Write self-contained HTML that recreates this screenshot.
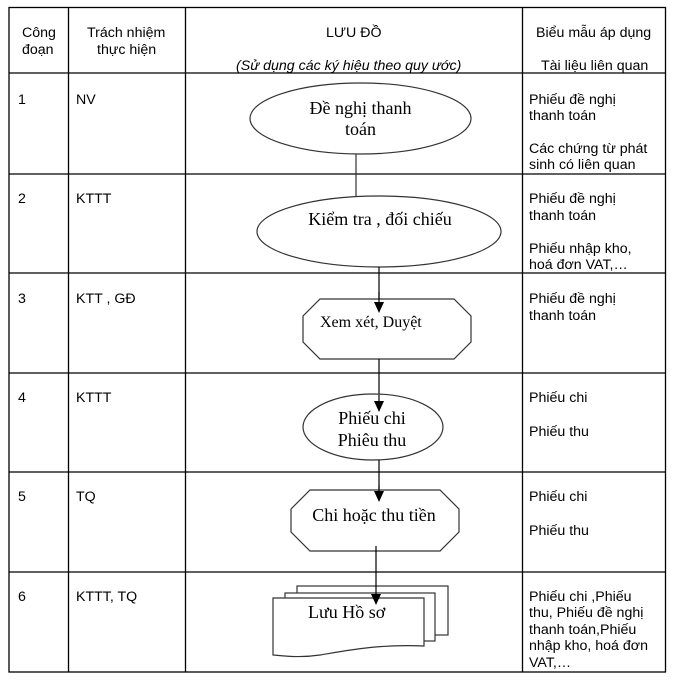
<!DOCTYPE html>
<html><head><meta charset="utf-8"><style>
body{margin:0;background:#fff;width:675px;height:688px;overflow:hidden}
svg{position:absolute;left:0;top:0}
.a{font-family:"Liberation Sans",sans-serif;font-size:14.2px;fill:#000}
.t{font-family:"Liberation Serif",serif;font-size:18px;fill:#000}
</style></head><body>
<svg width="675" height="688" xmlns="http://www.w3.org/2000/svg">
<g stroke="#000" stroke-width="1.3" fill="none">
<rect x="9" y="7.5" width="656.5" height="664.5"/>
<line x1="68.5" y1="7.5" x2="68.5" y2="672"/>
<line x1="185.5" y1="7.5" x2="185.5" y2="672"/>
<line x1="522.5" y1="7.5" x2="522.5" y2="672"/>
<line x1="9" y1="73" x2="665.5" y2="73"/>
<line x1="9" y1="174" x2="665.5" y2="174"/>
<line x1="9" y1="273" x2="665.5" y2="273"/>
<line x1="9" y1="373" x2="665.5" y2="373"/>
<line x1="9" y1="472" x2="665.5" y2="472"/>
<line x1="9" y1="572" x2="665.5" y2="572"/>
</g>
<g stroke="#333" stroke-width="1.2" fill="#fff">
<ellipse cx="360.5" cy="118.5" rx="110.5" ry="35.5"/>
<line x1="356" y1="154" x2="356" y2="196"/>
<ellipse cx="379" cy="231.5" rx="122" ry="35.5"/>
<line x1="379" y1="267" x2="379" y2="312" stroke="#000"/>
<polygon points="320,299 454,299 471,316 471,342 454,359 320,359 303,342 303,316"/>
<line x1="379" y1="359" x2="379" y2="411" stroke="#000"/>
<ellipse cx="373" cy="427" rx="70" ry="33"/>
<line x1="379" y1="460" x2="379" y2="501" stroke="#000"/>
<polygon points="310,490 440,490 459,509 459,532 440,551 310,551 291,532 291,509"/>
<line x1="376" y1="546" x2="376" y2="604" stroke="#000"/>
<rect x="297" y="586" width="151" height="49"/>
<rect x="285" y="593" width="150" height="48"/>
<path d="M273,598 L424,598 L424,646 C380,644 350,650 320,655 C300,658 285,656 273,655 Z"/>
</g>
<g stroke="#000" stroke-width="1.2">
<line x1="379" y1="292" x2="379" y2="310"/>
<line x1="379" y1="395" x2="379" y2="410"/>
<line x1="379" y1="485" x2="379" y2="500"/>
<line x1="376" y1="585" x2="376" y2="603"/>
</g>
<g fill="#000">
<polygon points="374,302 384,302 379,313"/>
<polygon points="374,401 384,401 379,412"/>
<polygon points="374,491 384,491 379,502"/>
<polygon points="371,594 381,594 376,605"/>
</g>
<g class="a">
<text x="22" y="37">Công</text><text x="22" y="54">đoạn</text>
<text x="87" y="37">Trách nhiệm</text><text x="97" y="54">thực hiện</text>
<text x="326" y="37">LƯU ĐỒ</text>
<text x="236" y="70" font-style="italic">(Sử dụng các ký hiệu theo quy ước)</text>
<text x="536" y="37">Biểu mẫu áp dụng</text>
<text x="541" y="70">Tài liệu liên quan</text>
<text x="18" y="104">1</text><text x="76" y="104">NV</text>
<text x="529" y="104">Phiếu đề nghị</text><text x="529" y="120">thanh toán</text>
<text x="529" y="153">Các chứng từ phát</text><text x="529" y="169">sinh  có liên quan</text>
<text x="18" y="203">2</text><text x="76" y="203">KTTT</text>
<text x="529" y="203">Phiếu đề nghị</text><text x="529" y="220">thanh toán</text>
<text x="529" y="253">Phiếu nhập kho,</text><text x="529" y="269">hoá đơn VAT,…</text>
<text x="18" y="303">3</text><text x="76" y="303">KTT , GĐ</text>
<text x="529" y="303">Phiếu đề nghị</text><text x="529" y="320">thanh toán</text>
<text x="18" y="402">4</text><text x="76" y="402">KTTT</text>
<text x="529" y="402">Phiếu chi</text><text x="529" y="436">Phiếu thu</text>
<text x="18" y="501">5</text><text x="76" y="501">TQ</text>
<text x="529" y="501">Phiếu chi</text><text x="529" y="535">Phiếu thu</text>
<text x="18" y="601">6</text><text x="76" y="601">KTTT, TQ</text>
<text x="529" y="601">Phiếu chi ,Phiếu</text><text x="529" y="617">thu, Phiếu đề nghị</text>
<text x="529" y="634">thanh toán,Phiếu</text><text x="529" y="650">nhập kho, hoá đơn</text>
<text x="529" y="667">VAT,…</text>
</g>
<g class="t">
<text x="360.5" y="114" text-anchor="middle">Đề nghị thanh</text>
<text x="360.5" y="135" text-anchor="middle">toán</text>
<text x="380" y="225" text-anchor="middle">Kiểm tra , đối chiếu</text>
<text x="320" y="327" font-size="16">Xem xét, Duyệt</text>
<text x="372" y="424" text-anchor="middle">Phiếu chi</text>
<text x="372" y="446" text-anchor="middle">Phiêu thu</text>
<text x="374" y="521" text-anchor="middle">Chi hoặc thu tiền</text>
<text x="308" y="618">Lưu Hồ sơ</text>
</g>
</svg>
</body></html>
